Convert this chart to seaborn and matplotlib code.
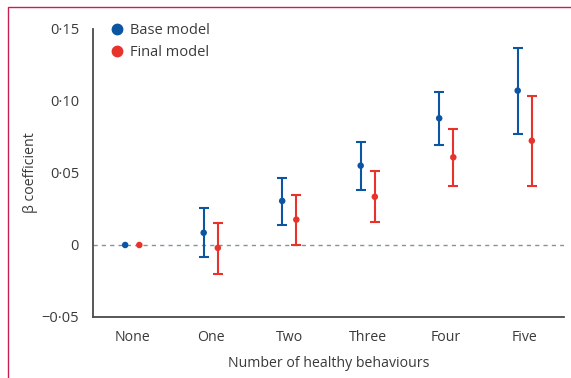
import matplotlib
matplotlib.use("Agg")
import matplotlib.pyplot as plt
import matplotlib.patches as mpatches
from matplotlib.lines import Line2D
import seaborn as sns
import pandas as pd
import numpy as np

categories = ["None", "One", "Two", "Three", "Four", "Five"]
base_est = [0.0, 0.0085, 0.0306, 0.0551, 0.0880, 0.1072]
base_lo = [0.0, -0.0083, 0.0141, 0.0380, 0.0694, 0.0771]
base_hi = [0.0, 0.0260, 0.0465, 0.0715, 0.1063, 0.1368]
final_est = [0.0, -0.0020, 0.0176, 0.0335, 0.0609, 0.0724]
final_lo = [0.0, -0.0200, 0.0000, 0.0162, 0.0410, 0.0410]
final_hi = [0.0, 0.0155, 0.0347, 0.0514, 0.0806, 0.1035]
yticks = [-0.05, 0.0, 0.05, 0.10, 0.15]
ytick_labels = ["\u22120\u00b705", "0", "0\u00b705", "0\u00b710", "0\u00b715"]

BLUE = "#0b55a3"
RED = "#e8332c"
TXT = "#3a3a3a"
AX = "#4a4a4a"
FS = 10.2

sns.set_style("white")
plt.rcParams["font.family"] = ["Open Sans", "DejaVu Sans"]

fig = plt.figure(figsize=(5.71, 3.78), dpi=100)
ax = fig.add_axes([93 / 571, 1 - 317 / 378, (564 - 93) / 571, (317 - 29) / 378])

# border
fig.patches.append(mpatches.Rectangle((8 / 571, -0.2), 1.5, 1.2 - 7 / 378,
                                      transform=fig.transFigure, fill=False,
                                      edgecolor="#c8204f", linewidth=1.0, zorder=0))

off = 0.09
x = np.arange(len(categories))
rows = []
for i, c in enumerate(categories):
    rows.append(dict(pos=i - off, est=base_est[i], lo=base_lo[i], hi=base_hi[i], model="Base model"))
    rows.append(dict(pos=i + off, est=final_est[i], lo=final_lo[i], hi=final_hi[i], model="Final model"))
df = pd.DataFrame(rows)

ax.axhline(0, color="#7f959e", linestyle=(0, (3, 3)), linewidth=1.0, zorder=1)

palette = {"Base model": BLUE, "Final model": RED}
for m, sub in df.groupby("model"):
    show = sub[sub["hi"] != sub["lo"]]
    ax.errorbar(show["pos"], show["est"],
                yerr=[show["est"] - show["lo"], show["hi"] - show["est"]],
                fmt="none", ecolor=palette[m], elinewidth=1.5, capsize=3.3,
                capthick=1.5, zorder=2)
sns.scatterplot(data=df, x="pos", y="est", hue="model", palette=palette,
                s=22, edgecolor="none", ax=ax, legend=False, zorder=3)

ax.set_xlim(-0.5, 5.5)
ax.set_ylim(-0.05, 0.15)
ax.set_yticks(yticks)
ax.set_yticklabels(ytick_labels)
ax.set_xticks(np.arange(-0.5, 5.6, 1.0))
ax.set_xticklabels([])
ax.set_xticks(x, minor=True)
ax.set_xticklabels(categories, minor=True)
ax.tick_params(axis="x", which="major", direction="out", length=8, width=1.0, color=AX)
ax.tick_params(axis="x", which="minor", length=0, pad=9.5, labelsize=FS, labelcolor=TXT)
ax.tick_params(axis="y", direction="out", length=7, width=1.0, color=AX, labelsize=FS + 0.3,
               labelcolor=TXT, pad=3)

for s in ["top", "right"]:
    ax.spines[s].set_visible(False)
for s in ["left", "bottom"]:
    ax.spines[s].set_color(AX)
    ax.spines[s].set_linewidth(1.3)

ax.set_xlabel("Number of healthy behaviours", fontsize=FS, color=TXT, labelpad=8)
ax.set_ylabel("\u03b2 coefficient", fontsize=FS, color=TXT, labelpad=2.5)

handles = [Line2D([], [], marker="o", linestyle="none", markersize=7.5, color=BLUE, label="Base model"),
           Line2D([], [], marker="o", linestyle="none", markersize=7.5, color=RED, label="Final model")]
leg = ax.legend(handles=handles, loc="upper left", bbox_to_anchor=(0.019, 1.04), frameon=False,
                fontsize=FS + 0.3, handlelength=1.2, handletextpad=0.3, labelspacing=0.45,
                borderaxespad=0)
for t in leg.get_texts():
    t.set_color(TXT)

fig.savefig("out.png", dpi=100)
